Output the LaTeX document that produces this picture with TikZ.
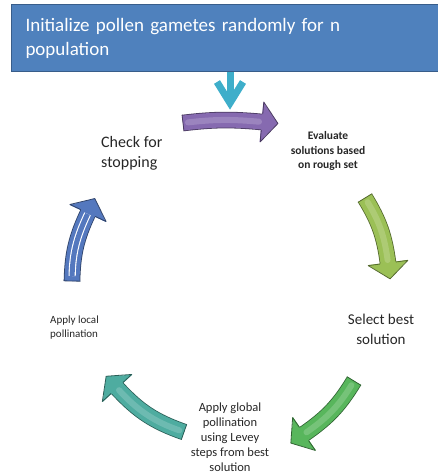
\documentclass[tikz,border=0pt]{standalone}
\usepackage{fontspec}
\setmainfont{Carlito}
\usetikzlibrary{decorations.markings, calc}

\definecolor{boxblue}{RGB}{79,129,189}
\definecolor{boxedge}{RGB}{56,93,138}
\definecolor{dropcyan}{RGB}{62,174,202}
\definecolor{stepviolet}{RGB}{134,106,176}
\definecolor{steplime}{RGB}{155,192,86}
\definecolor{stepgreen}{RGB}{88,182,92}
\definecolor{stepteal}{RGB}{78,172,160}
\definecolor{stepblue}{RGB}{84,120,190}
\definecolor{labelgray}{RGB}{38,38,38}

\begin{document}
\begin{tikzpicture}[x=1pt, y=-1pt]
  \tikzstyle{initbox}=[draw=boxedge, line width=1pt, fill=boxblue, text=white, anchor=north west, minimum width=428pt, minimum height=67pt, text width=400pt, inner xsep=10pt, align=left, font=\fontsize{19}{24}\selectfont]
  \tikzstyle{steptext}=[text=labelgray, inner sep=0pt]
  \tikzstyle{dropline}=[draw=dropcyan, line width=7pt, line join=miter]
  \tikzstyle{cyclearrow}=[draw=#1!55!black, line width=0.8pt, double=#1, double distance=15pt,
    postaction={decorate, decoration={markings,
      mark=at position 0 with {\draw[#1!55!black, line width=0.8pt] (0pt,-8.3pt) -- (0pt,8.3pt);},
      mark=at position 1 with {\fill[#1] (-0.5pt,-7.6pt) -- (-0.5pt,-20pt) -- (16pt,0pt) -- (-0.5pt,20pt) -- (-0.5pt,7.6pt) -- cycle;
        \draw[#1!55!black, line width=0.8pt, line join=round] (0pt,-8pt) -- (0pt,-20pt) -- (16pt,0pt) -- (0pt,20pt) -- (0pt,8pt);}}}]
  \tikzstyle{glint}=[draw=white, opacity=0.18, line width=6pt, line cap=round, shorten <=5pt, shorten >=3pt]
  \tikzstyle{stripes}=[draw=white, line width=1.1pt, double=stepblue, double distance=5pt, shorten <=5pt, shorten >=1pt]

  \useasboundingbox (0,0) rectangle (438,474);

  \node[initbox] (init) at (11,4) {Initialize pollen gametes randomly for n\\population};

  \node[steptext, anchor=west, align=left, font=\fontsize{16}{20}\selectfont] (stop) at (101,153) {Check for\\stopping};
  \node[steptext, align=center, font=\bfseries\fontsize{11.5}{14.5}\selectfont] (eval) at (328,151) {Evaluate\\solutions based\\on rough set};
  \node[steptext, align=center, font=\fontsize{15}{20}\selectfont] (best) at (381,329) {Select best\\solution};
  \node[steptext, align=center, font=\fontsize{12.5}{15}\selectfont] (global) at (230,437) {Apply global\\pollination\\using Levey\\steps from best\\solution};
  \node[steptext, anchor=west, align=left, font=\fontsize{11}{14}\selectfont] (local) at (50,328) {Apply local\\pollination};

  % arrow ends
  \coordinate (dropTip) at (230,103);
  \coordinate (violetS) at (183,123);
  \coordinate (violetE) at (262,122);
  \coordinate (limeS) at (365,198);
  \coordinate (limeE) at (388,263);
  \coordinate (greenS) at (354,381);
  \coordinate (greenE) at (304,434);
  \coordinate (tealS) at (184,432);
  \coordinate (tealE) at (117,388);
  \coordinate (blueS) at (72,281);
  \coordinate (blueE) at (88,213);

  \draw[dropline] (init.south -| dropTip) -- (dropTip);
  \draw[dropline] ($(dropTip)+(-13,-21)$) -- (dropTip) -- ($(dropTip)+(13,-21)$);

  \draw[cyclearrow=stepviolet] (violetS) to[bend left=6] (violetE);
  \draw[glint] (violetS) to[bend left=6] (violetE);
  \draw[cyclearrow=steplime] (limeS) to[bend left=12] (limeE);
  \draw[glint] (limeS) to[bend left=12] (limeE);
  \draw[cyclearrow=stepgreen] (greenS) to[bend left=12] (greenE);
  \draw[glint] (greenS) to[bend left=12] (greenE);
  \draw[cyclearrow=stepteal] (tealS) to[bend left=14] (tealE);
  \draw[glint] (tealS) to[bend left=14] (tealE);
  \draw[cyclearrow=stepblue] (blueS) to[bend left=12] (blueE);
  \draw[stripes] (blueS) to[bend left=12] (blueE);
\end{tikzpicture}
\end{document}
